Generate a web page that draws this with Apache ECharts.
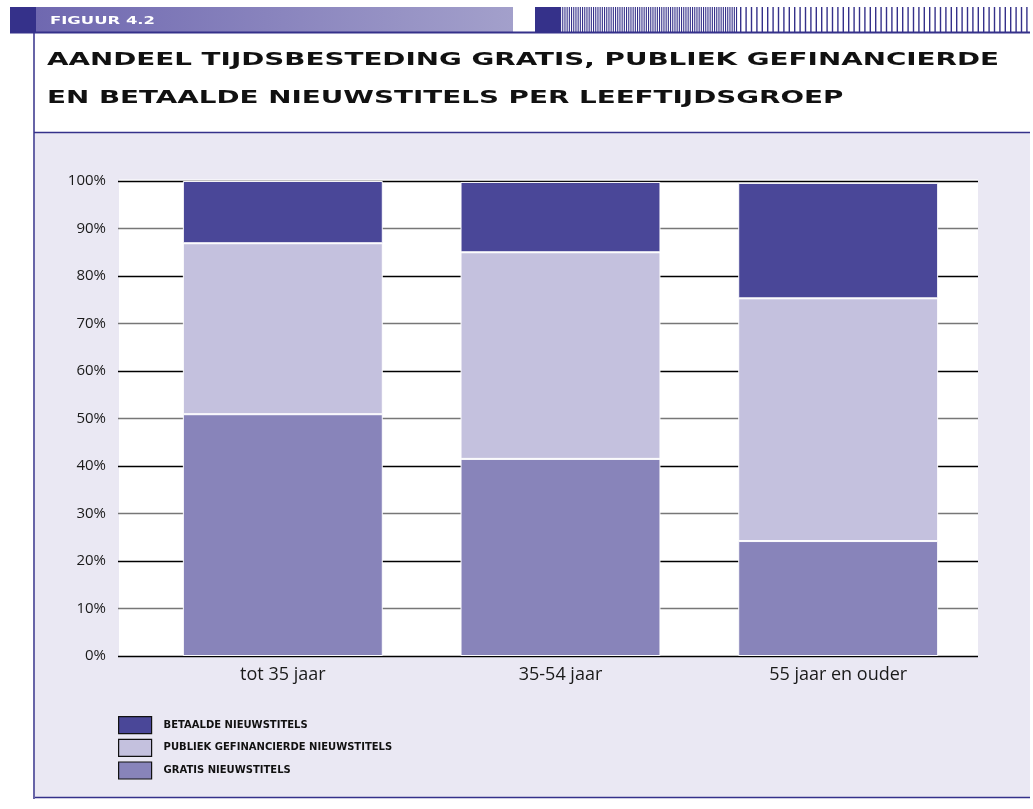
<!DOCTYPE html>
<html>
<head>
<meta charset="utf-8">
<script src="https://cdn.jsdelivr.net/npm/echarts@6/dist/echarts.min.js"></script>
<style>
html,body{margin:0;padding:0;background:#fff;}
#chart{width:1033px;height:809px;}
</style>
</head>
<body>
<div id="chart"></div>
<script>
// ---- data ----
const categories = ['tot 35 jaar', '35-54 jaar', '55 jaar en ouder'];
const gratis   = [50.9, 41.5, 24.2];
const publiek  = [36.0, 43.5, 51.1];
const betaald  = [13.1, 14.8, 24.3];
const yTickLabels = ['0%','10%','20%','30%','40%','50%','60%','70%','80%','90%','100%'];
const seriesNames = ['GRATIS NIEUWSTITELS', 'PUBLIEK GEFINANCIERDE NIEUWSTITELS', 'BETAALDE NIEUWSTITELS'];
const titleLines = ['AANDEEL TIJDSBESTEDING GRATIS, PUBLIEK GEFINANCIERDE', 'EN BETAALDE NIEUWSTITELS PER LEEFTIJDSGROEP'];
const figLabel = 'FIGUUR 4.2';

// ---- styling helpers ----
const NAVY = '#35318a';
const measure = (txt, font) => {
  const c = document.createElement('canvas').getContext('2d');
  c.font = font;
  return c.measureText(txt).width;
};
const titleFont = 'bold 18px "DejaVu Sans"';
const titleScale = 952 / measure(titleLines[0], titleFont);
const figFont = 'bold 11px "DejaVu Sans"';
const figScale = 105 / measure(figLabel, figFont);

// header stripes (decoration)
const stripes = [];
for (let x = 560; x < 737; x += 2.2) {
  stripes.push({type:'rect', shape:{x:x, y:7, width:1.1, height:25}, style:{fill:NAVY}, z:-3, silent:true});
}
for (let x = 740; x < 1030; x += 5.4) {
  stripes.push({type:'rect', shape:{x:x, y:7, width:1.4, height:25}, style:{fill:NAVY}, z:-3, silent:true});
}

const graphics = [
  // lavender panel
  {type:'rect', shape:{x:35, y:133, width:995, height:664}, style:{fill:'#eae8f3'}, z:-10, silent:true},
  // white plot area
  {type:'rect', shape:{x:119, y:179.5, width:859, height:477}, style:{fill:'#ffffff'}, z:-9, silent:true},
  // rules
  {type:'line', shape:{x1:34, y1:132.5, x2:1030, y2:132.5}, style:{stroke:NAVY, lineWidth:1.5}, z:-2, silent:true},
  {type:'line', shape:{x1:35, y1:797.5, x2:1030, y2:797.5}, style:{stroke:NAVY, lineWidth:1.5}, z:-2, silent:true},
  {type:'line', shape:{x1:34, y1:32, x2:34, y2:799}, style:{stroke:NAVY, lineWidth:1.5}, z:-2, silent:true},
  // header
  {type:'rect', shape:{x:10, y:7, width:26, height:26}, style:{fill:NAVY}, z:-3, silent:true},
  {type:'rect', shape:{x:36, y:7, width:477, height:25},
   style:{fill:{type:'linear', x:0, y:0, x2:1, y2:0, colorStops:[{offset:0,color:'#6f68b0'},{offset:1,color:'#a3a0cb'}]}}, z:-3, silent:true},
  {type:'rect', shape:{x:535, y:7, width:25, height:26}, style:{fill:NAVY}, z:-3, silent:true},
  {type:'line', shape:{x1:10, y1:32.5, x2:1030, y2:32.5}, style:{stroke:NAVY, lineWidth:2}, z:-2, silent:true},
  {type:'text', x:50, y:21.5, scaleX:figScale, style:{text:figLabel, font:figFont, fill:'#ffffff', verticalAlign:'middle', align:'left'}, z:1, silent:true},
  // title
  {type:'text', x:47, y:60, scaleX:titleScale, style:{text:titleLines[0], font:titleFont, fill:'#111111', verticalAlign:'middle', align:'left'}, z:1, silent:true},
  {type:'text', x:47, y:98.5, scaleX:titleScale, style:{text:titleLines[1], font:titleFont, fill:'#111111', verticalAlign:'middle', align:'left'}, z:1, silent:true}
].concat(stripes);

const barCommon = {
  type: 'bar', stack: 'total', xAxisIndex: 1, yAxisIndex: 1,
  barWidth: '72%',
  itemStyle: {borderColor: 'rgba(255,255,255,0.95)', borderWidth: 1},
  emphasis: {disabled: true}
};

const option = {
  backgroundColor: '#ffffff',
  animation: false,
  graphic: graphics,
  legend: {
    orient: 'vertical', left: 118, top: 716, padding: 0,
    itemWidth: 33, itemHeight: 17, itemGap: 4.5, icon: 'rect',
    data: [seriesNames[2], seriesNames[1], seriesNames[0]],
    itemStyle: {borderColor: '#111', borderWidth: 1.2},
    textStyle: {fontFamily: 'DejaVu Sans', fontWeight: 'bold', fontSize: 10, color: '#111', padding: [0,0,0,7]},
    selectedMode: false
  },
  grid: [
    {left: 118, right: 55, top: 181, bottom: 153},
    {left: 144, right: 56, top: 181, bottom: 153}
  ],
  xAxis: [
    {type: 'value', gridIndex: 0, show: false, min: 0, max: 1},
    {type: 'category', gridIndex: 1, data: categories,
     axisLine: {show: false}, axisTick: {show: false},
     axisLabel: {fontFamily: 'Open Sans', fontSize: 18, color: '#1a1a1a', margin: 10}}
  ],
  yAxis: [
    {type: 'value', gridIndex: 0, min: 0, max: 100, interval: 10,
     axisLine: {show: false}, axisTick: {show: false},
     axisLabel: {fontFamily: 'Open Sans', fontSize: 15, color: '#1a1a1a', margin: 12, padding: [8,0,0,0],
                 formatter: (v) => yTickLabels[Math.round(v / 10)]},
     splitLine: {show: true, lineStyle: {color: ['#000000', '#777777'], width: 1.3}}},
    {type: 'value', gridIndex: 1, min: 0, max: 100, show: false, splitLine: {show: false}}
  ],
  series: [
    Object.assign({}, barCommon, {name: seriesNames[0], data: gratis, itemStyle: Object.assign({}, barCommon.itemStyle, {color: '#8884ba'})}),
    Object.assign({}, barCommon, {name: seriesNames[1], data: publiek, itemStyle: Object.assign({}, barCommon.itemStyle, {color: '#c4c1de'})}),
    Object.assign({}, barCommon, {name: seriesNames[2], data: betaald, itemStyle: Object.assign({}, barCommon.itemStyle, {color: '#4a4798'})})
  ]
};

const chart = echarts.init(document.getElementById('chart'), null, {renderer: 'canvas'});
chart.setOption(option);
</script>
</body>
</html>
